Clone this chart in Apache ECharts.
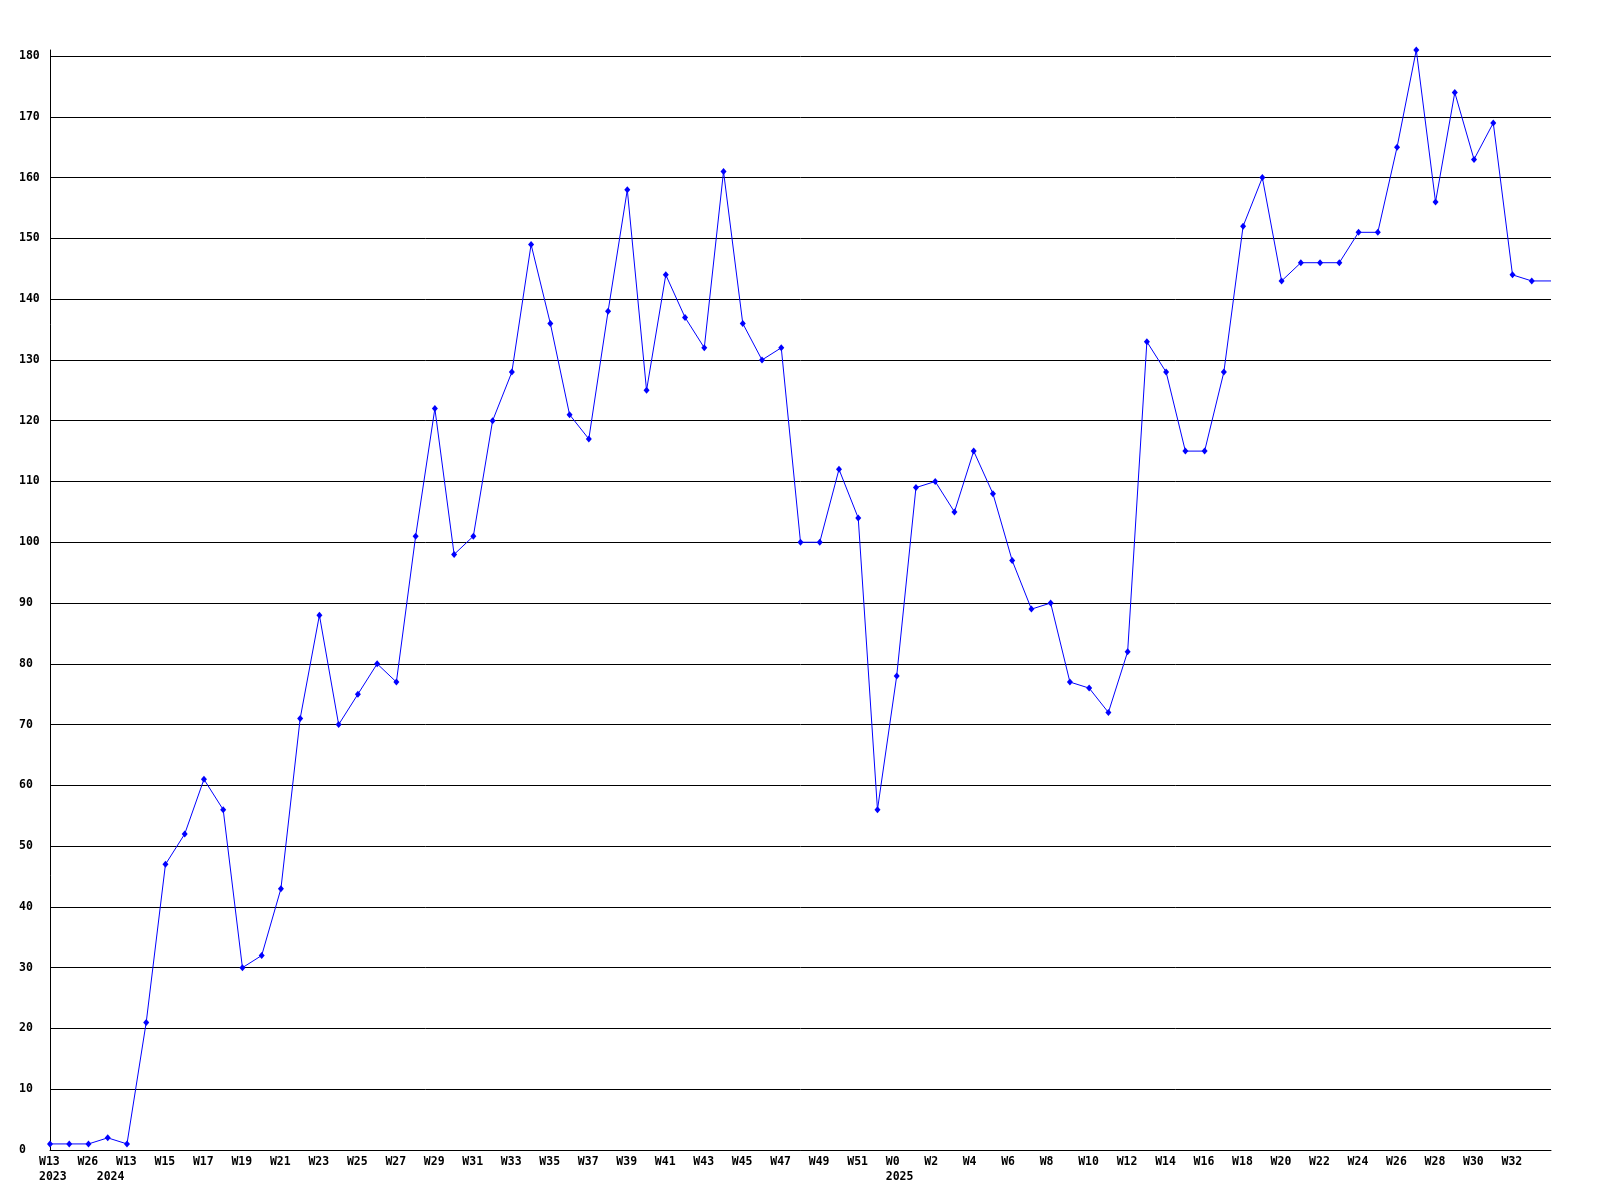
<!DOCTYPE html>
<html>
<head>
<meta charset="utf-8">
<script src="https://cdn.jsdelivr.net/npm/echarts@6/dist/echarts.min.js"></script>
<style>
html,body{margin:0;padding:0;background:#fff;}
#chart{width:1600px;height:1200px;}
</style>
</head>
<body>
<div id="chart"></div>
<script>
// Week tick labels ('' = not shown)
var weekLabels = ["W13","","W26","","W13","","W15","","W17","","W19","","W21","","W23","","W25","","W27","",
  "W29","","W31","","W33","","W35","","W37","","W39","","W41","","W43","","W45","","W47","",
  "W49","","W51","","W0","","W2","","W4","","W6","","W8","","W10","","W12","","W14","",
  "W16","","W18","","W20","","W22","","W24","","W26","","W28","","W30","","W32","",""];
// Year labels under the first point of each year
var yearLabels = ["2023","","","2024","","","","","","","","","","","","","","","","",
  "","","","","","","","","","","","","","","","","","","","",
  "","","","","2025","","","","","","","","","","","","","","","",
  "","","","","","","","","","","","","","","","","","",""];
// Series values
var values = [1,1,1,2,1,21,47,52,61,56,30,32,43,71,88,70,75,80,77,101,
  122,98,101,120,128,149,136,121,117,138,158,125,144,137,132,161,136,130,132,100,
  100,112,104,56,78,109,110,105,115,108,97,89,90,77,76,72,82,133,128,115,
  115,128,152,160,143,146,146,146,151,151,165,181,156,174,163,169,144,143,143];

var categories = values.map(function(v,i){ return String(i); });
var seriesData = values.map(function(v,i){
  return i === values.length-1 ? {value:v, symbol:'none'} : v;
});

var font = '"DejaVu Sans Mono", "Liberation Mono", monospace';
var chart = echarts.init(document.getElementById('chart'), null, {renderer:'canvas'});
chart.setOption({
  animation:false,
  backgroundColor:'#ffffff',
  grid:{left:50, right:49, top:50, bottom:50},
  xAxis:{
    type:'category',
    data:categories,
    boundaryGap:false,
    axisLine:{show:true, lineStyle:{color:'#000', width:1}},
    axisTick:{show:false},
    splitLine:{show:false},
    axisLabel:{
      interval:0,
      margin:5,
      align:'center',
      hideOverlap:false,
      formatter:function(val, idx){
        var w = weekLabels[idx], y = yearLabels[idx];
        if(!w && !y) return '';
        if(!y) return '{w|' + w + '}';
        return '{w|' + (w || ' ') + '}\n{y|' + y + '}';
      },
      rich:{
        w:{fontFamily:font, fontWeight:'bold', fontSize:11.5, color:'#000', lineHeight:15, width:22, align:'left'},
        y:{fontFamily:font, fontWeight:'bold', fontSize:11.5, color:'#000', lineHeight:15, width:22, align:'left'}
      }
    }
  },
  yAxis:{
    type:'value',
    min:0, max:181, interval:10,
    axisLine:{show:true, lineStyle:{color:'#000', width:1}},
    axisTick:{show:false},
    splitLine:{show:true, showMaxLine:false, lineStyle:{color:'#000', width:1}},
    axisLabel:{
      showMaxLabel:false,
      align:'left',
      margin:31,
      fontFamily:font, fontWeight:'bold', fontSize:11.5, color:'#000'
    }
  },
  series:[{
    type:'line',
    data:seriesData,
    symbol:'diamond',
    symbolSize:[6,7],
    showAllSymbol:true,
    itemStyle:{color:'#0000ff'},
    lineStyle:{color:'#0000ff', width:1},
    emphasis:{disabled:true}
  }]
});
</script>
</body>
</html>
